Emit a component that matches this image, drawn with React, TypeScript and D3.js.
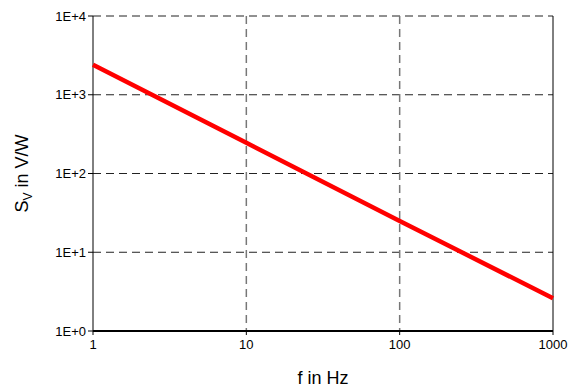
import * as d3 from "d3";

const freqs = [1, 10, 100, 1000];
const sv = [2400, 245, 25, 2.6];
const xTicks = [1, 10, 100, 1000];
const yTicks = [1, 10, 100, 1000, 10000];
const yTickLabels = ["1E+0", "1E+1", "1E+2", "1E+3", "1E+4"];

const W = 570;
const H = 389;
const m = { left: 93, right: 17, top: 16, bottom: 58 };

export default function App() {
  const x = d3.scaleLog().domain([1, 1000]).range([m.left, W - m.right]);
  const y = d3.scaleLog().domain([1, 10000]).range([H - m.bottom, m.top]);
  const line = d3
    .line<number>()
    .x((_, i) => x(freqs[i]))
    .y((d) => y(d));
  const x0 = x(1);
  const x1 = x(1000);
  const y0 = y(1);
  const y1 = y(10000);
  const font = "'Liberation Sans', Arial, sans-serif";

  return (
    <svg
      width={W}
      height={H}
      style={{ position: "absolute", left: 0, top: 0, background: "#fff" }}
      fontFamily={font}
    >
      {/* horizontal grid */}
      {yTicks.map((t) => (
        <line
          key={"hg" + t}
          x1={x0}
          x2={x1}
          y1={y(t)}
          y2={y(t)}
          stroke="#222"
          strokeWidth={1}
          strokeDasharray="8,5"
        />
      ))}
      {/* vertical grid */}
      {xTicks.slice(1, -1).map((t) => (
        <line
          key={"vg" + t}
          x1={x(t)}
          x2={x(t)}
          y1={y1}
          y2={y0}
          stroke="#777"
          strokeWidth={1.5}
          strokeDasharray="8,5"
        />
      ))}
      {/* frame */}
      <line x1={x0} x2={x0} y1={y1} y2={y0} stroke="#000" strokeWidth={1} />
      <line x1={x1} x2={x1} y1={y1} y2={y0} stroke="#000" strokeWidth={1} />
      <line x1={x0} x2={x1} y1={y0} y2={y0} stroke="#000" strokeWidth={2} />

      {/* y ticks */}
      {yTicks.map((t, i) => (
        <g key={"yt" + t}>
          <line x1={x0 - 5} x2={x0} y1={y(t)} y2={y(t)} stroke="#000" />
          <text
            x={x0 - 7}
            y={y(t)}
            textAnchor="end"
            dominantBaseline="central"
            fontSize={13}
          >
            {yTickLabels[i]}
          </text>
        </g>
      ))}
      {/* x ticks */}
      {xTicks.map((t) => (
        <g key={"xt" + t}>
          <line x1={x(t)} x2={x(t)} y1={y0} y2={y0 + 4} stroke="#000" />
          <text x={x(t)} y={y0 + 18} textAnchor="middle" fontSize={13}>
            {t}
          </text>
        </g>
      ))}

      <path
        d={line(sv) || ""}
        fill="none"
        stroke="#ff0000"
        strokeWidth={4.5}
      />

      <text x={(x0 + x1) / 2} y={384} textAnchor="middle" fontSize={18}>
        f in Hz
      </text>
      <text
        transform={`translate(28,${(y0 + y1) / 2}) rotate(-90)`}
        textAnchor="middle"
        fontSize={18}
      >
        S<tspan fontSize={12} dy={4}>V</tspan>
        <tspan dy={-4}> in V/W</tspan>
      </text>
    </svg>
  );
}
